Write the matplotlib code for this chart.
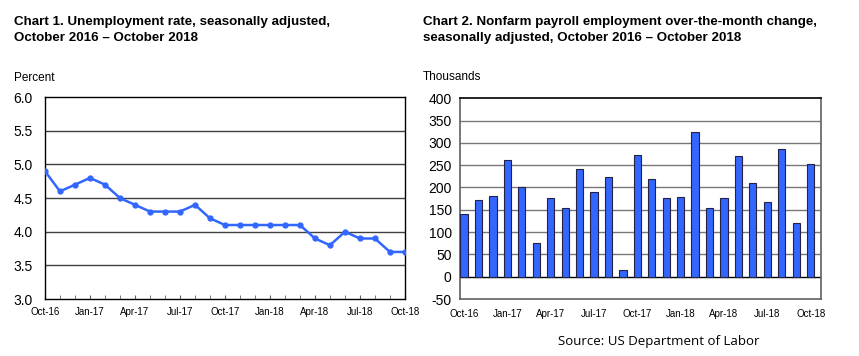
import matplotlib
matplotlib.use('Agg')
import matplotlib.pyplot as plt
from matplotlib import font_manager
import numpy as np

# Chart 1 - unemployment rate, Oct 2016 - Oct 2018
Months      =  ['Oct-16', 'Nov-16', 'Dec-16', 'Jan-17', 'Feb-17', 'Mar-17', 'Apr-17', 'May-17', 'Jun-17',
                'Jul-17', 'Aug-17', 'Sep-17', 'Oct-17', 'Nov-17', 'Dec-17', 'Jan-18', 'Feb-18', 'Mar-18',
                'Apr-18', 'May-18', 'Jun-18', 'Jul-18', 'Aug-18', 'Sep-18', 'Oct-18']
Unemp       =  [4.9, 4.6, 4.7, 4.8, 4.7, 4.5, 4.4, 4.3, 4.3, 4.3, 4.4, 4.2, 4.1,
                4.1, 4.1, 4.1, 4.1, 4.1, 3.9, 3.8, 4.0, 3.9, 3.9, 3.7, 3.7]
# Chart 2 - nonfarm payroll over-the-month change (thousands)
Payroll     =  [140, 172, 182, 261, 200, 75, 176, 155, 241, 191, 223, 14, 272,
                218, 176, 178, 325, 155, 176, 270, 209, 167, 287, 120, 252]

blue        =  '#3366ff'
tickFont    =  'Liberation Sans'
# narrow bold face if there is one, else plain Liberation Sans
names       =  set(f.name for f in font_manager.fontManager.ttflist)
titleFont   =  'Liberation Sans Narrow' if 'Liberation Sans Narrow' in names else 'Liberation Sans'
titleSize   =  10.5 if titleFont == 'Liberation Sans Narrow' else 9.6

fig = plt.figure(figsize=(8.59, 3.56), dpi=100)
x   = np.arange(len(Months))
lab = x[::3]

# ---- Chart 1
ax1 = fig.add_axes([0.0524, 0.160, 0.419, 0.567])
for g in [3.5, 4.0, 4.5, 5.0, 5.5]:
	ax1.axhline(g, color='#404040', linewidth=1, zorder=1)
ax1.plot(x, Unemp, '-o', color=blue, linewidth=1.8, markersize=3.5, zorder=3)
ax1.set_xlim(0, 24)
ax1.set_ylim(3.0, 6.0)
ax1.set_yticks([3.0, 3.5, 4.0, 4.5, 5.0, 5.5, 6.0])
ax1.set_yticklabels(['%.1f' % v for v in ax1.get_yticks()], fontsize=10, fontname=tickFont)
ax1.tick_params(axis='y', length=0, pad=9)
ax1.set_xticks(lab)
ax1.set_xticks(x, minor=True)
ax1.set_xticklabels([Months[i] for i in lab], fontsize=7, fontname=tickFont)
ax1.tick_params(axis='x', which='both', direction='in', length=3, color='#606060', pad=6)
for s in ax1.spines.values():
	s.set_color('black')
	s.set_linewidth(1)
fig.text(0.016, 0.955, 'Chart 1. Unemployment rate, seasonally adjusted,\nOctober 2016 \u2013 October 2018',
         fontsize=titleSize, fontweight='bold', fontname=titleFont, va='top', linespacing=1.4)
fig.text(0.016, 0.782, 'Percent', fontsize=8.5, fontname=tickFont, va='center')

# ---- Chart 2
ax2 = fig.add_axes([0.5355, 0.160, 0.4203, 0.564])
for g in [50, 100, 150, 200, 250, 300, 350]:
	ax2.axhline(g, color='#777777', linewidth=1, zorder=1)
ax2.axhline(0, color='black', linewidth=1, zorder=1)
ax2.bar(x, Payroll, width=0.5, color=blue, edgecolor='#222244', linewidth=0.8, zorder=3)
ax2.set_xlim(-0.28, 24.72)
ax2.set_ylim(-50, 400)
ax2.set_yticks(np.arange(-50, 401, 50))
ax2.set_yticklabels([str(v) for v in np.arange(-50, 401, 50)], fontsize=10, fontname=tickFont)
ax2.tick_params(axis='y', length=0, pad=6)
ax2.set_xticks(lab)
ax2.set_xticklabels([Months[i] for i in lab], fontsize=7, fontname=tickFont)
ax2.tick_params(axis='x', length=0, pad=7)
for s in ax2.spines.values():
	s.set_color('#606060')
	s.set_linewidth(1.2)
ax2.spines['top'].set_color('black')
fig.text(0.492, 0.955, 'Chart 2. Nonfarm payroll employment over-the-month change,\nseasonally adjusted, October 2016 \u2013 October 2018',
         fontsize=titleSize, fontweight='bold', fontname=titleFont, va='top', linespacing=1.4)
fig.text(0.492, 0.785, 'Thousands', fontsize=8.5, fontname=tickFont, va='center')

fig.text(0.650, 0.040, 'Source: US Department of Labor', fontsize=9.5, fontname='Open Sans', va='center')

plt.savefig('out.png', dpi=100)
plt.close(fig)
